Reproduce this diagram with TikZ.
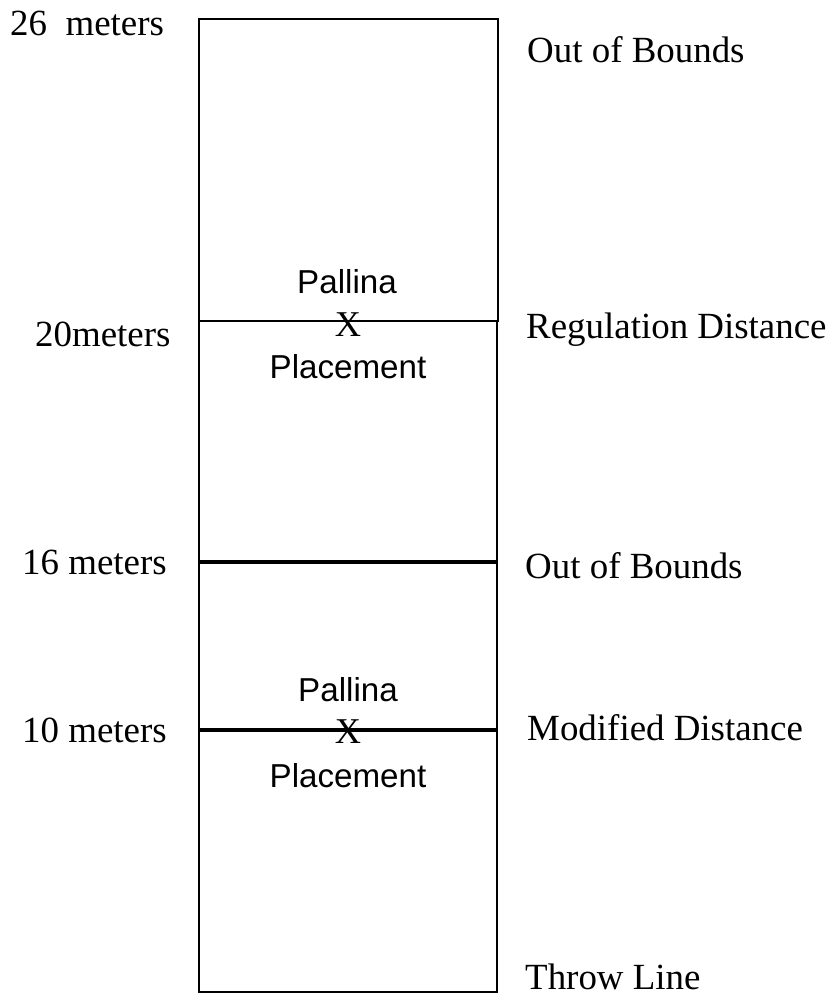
\documentclass[tikz,border=0pt]{standalone}
\usepackage{fontspec}
\setmainfont{Liberation Serif}
\newfontfamily\palfont{Liberation Sans}

\begin{document}
\begin{tikzpicture}[x=0.03cm, y=-0.03cm]
    \tikzset{mark label/.style = {inner sep=0, anchor=base west, font=\fontsize{31.5}{36}\selectfont}}
    \tikzset{pallina/.style = {inner sep=0, anchor=base, font=\palfont\fontsize{28.3}{32}\selectfont}}
    \tikzset{cross/.style = {inner sep=0, anchor=base, font=\fontsize{31}{34}\selectfont}}
    \useasboundingbox (0,0) rectangle (835,998);

    % field
    \draw[line width=1.3pt] (199,19) rectangle (498,321);
    \draw[line width=1.3pt] (199,321) rectangle (497,992);
    \draw[line width=1.9pt] (199,321) -- (498,321);
    \draw[line width=2.6pt] (199,562) -- (497,562);
    \draw[line width=2.6pt] (199,730) -- (497,730);

    % distances
    \node[mark label] (m26) at (10,35) {26\ \ meters};
    \node[mark label] (m20) at (35,346) {20meters};
    \node[mark label] (m16) at (22,574) {16 meters};
    \node[mark label] (m10) at (22,742) {10 meters};

    % zones
    \node[mark label] (oob1) at (527,62) {Out of Bounds};
    \node[mark label] (reg) at (526,338) {Regulation Distance};
    \node[mark label] (oob2) at (525,578) {Out of Bounds};
    \node[mark label] (mod) at (527,740) {Modified Distance};
    \node[mark label] (throw) at (525,989) {Throw Line};

    % pallina placements
    \node[pallina] (pal1) at (347,293) {Pallina};
    \node[cross] (x1) at (348,336) {X};
    \node[pallina] (plc1) at (348,378) {Placement};
    \node[pallina] (pal2) at (348,701) {Pallina};
    \node[cross] (x2) at (348,743) {X};
    \node[pallina] (plc2) at (348,787) {Placement};
\end{tikzpicture}
\end{document}
